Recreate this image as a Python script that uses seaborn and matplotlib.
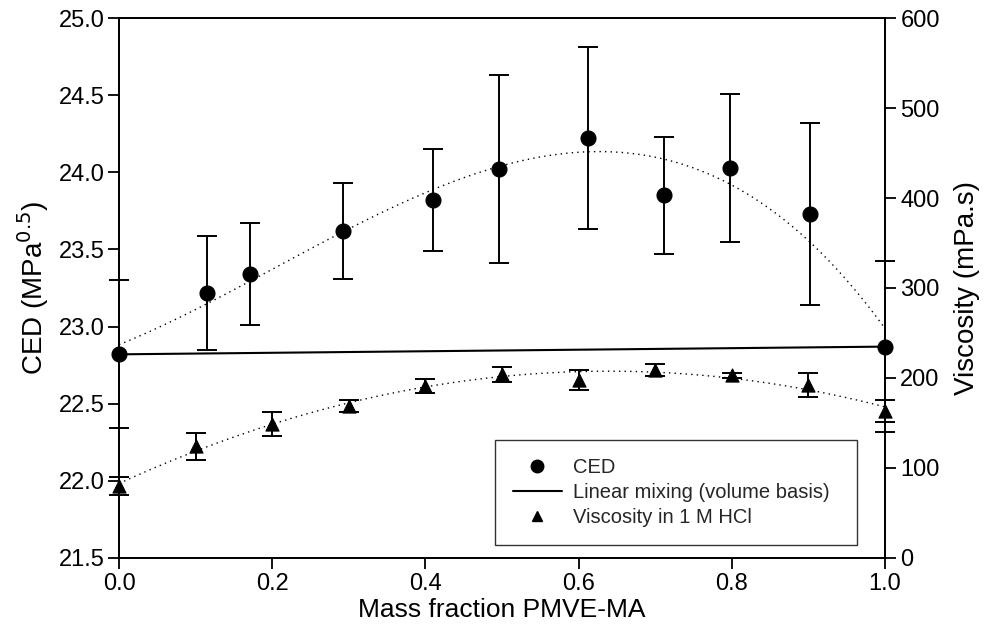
import numpy as np
import pandas as pd
import matplotlib
matplotlib.use("Agg")
import matplotlib.pyplot as plt
import seaborn as sns
from matplotlib.lines import Line2D

sns.set_theme(style="white")
plt.rcParams['font.family'] = ['Liberation Sans', 'DejaVu Sans']

# --- data ---
ced_x = [0.0, 0.115, 0.171, 0.292, 0.41, 0.496, 0.612, 0.711, 0.798, 0.902, 1.0]
ced_y = [22.82, 23.22, 23.34, 23.62, 23.82, 24.02, 24.22, 23.85, 24.03, 23.73, 22.87]
ced_err = [0.48, 0.37, 0.33, 0.31, 0.33, 0.61, 0.59, 0.38, 0.48, 0.59, 0.555]

mix_x = [0.0, 1.0]
mix_y = [22.82, 22.87]

vis_x = [0.0, 0.1, 0.2, 0.3, 0.4, 0.5, 0.6, 0.7, 0.8, 0.9, 1.0]
vis_y = [80, 124, 149, 169, 191, 204, 198, 209, 203, 192, 163]
vis_err = [10, 15, 13, 7, 8, 8, 11, 7, 3, 13, 12]

x_ticks = [0.0, 0.2, 0.4, 0.6, 0.8, 1.0]
x_tick_labels = ["0.0", "0.2", "0.4", "0.6", "0.8", "1.0"]
ced_ticks = [21.5, 22.0, 22.5, 23.0, 23.5, 24.0, 24.5, 25.0]
vis_ticks = [0, 100, 200, 300, 400, 500, 600]

ced_df = pd.DataFrame({"x": ced_x, "y": ced_y, "err": ced_err})
vis_df = pd.DataFrame({"x": vis_x, "y": vis_y, "err": vis_err})

fig = plt.figure(figsize=(9.86, 6.39), dpi=100)
ax = fig.add_axes([0.1207, 0.1268, 0.7769, 0.845])
ax2 = ax.twinx()

dot = (0, (1, 3))
# CED fit curve (cubic regression)
sns.regplot(data=ced_df, x="x", y="y", order=3, ci=None, scatter=False, ax=ax,
            truncate=True, line_kws=dict(color="black", lw=1.0, ls=dot))
# linear mixing line
sns.lineplot(x=mix_x, y=mix_y, ax=ax, color="black", lw=1.5, zorder=3)
# CED points with error bars
ax.errorbar(ced_df["x"], ced_df["y"], yerr=ced_df["err"], fmt="none", ecolor="black",
            elinewidth=1.4, capsize=7.5, capthick=1.4, zorder=4, clip_on=False)
sns.scatterplot(data=ced_df, x="x", y="y", ax=ax, marker="o", color="black", s=115,
                edgecolor="black", zorder=5, clip_on=False)

# viscosity fit curve (quadratic regression)
sns.regplot(data=vis_df, x="x", y="y", order=2, ci=None, scatter=False, ax=ax2,
            truncate=True, line_kws=dict(color="black", lw=1.0, ls=dot))
ax2.errorbar(vis_df["x"], vis_df["y"], yerr=vis_df["err"], fmt="none", ecolor="black",
             elinewidth=1.4, capsize=7.5, capthick=1.4, zorder=4, clip_on=False)
sns.scatterplot(data=vis_df, x="x", y="y", ax=ax2, marker="^", color="black", s=90,
                edgecolor="black", zorder=5, clip_on=False)

ax.set_xlim(0, 1.0)
ax.set_ylim(21.5, 25.0)
ax2.set_ylim(0, 600)
ax.set_xticks(x_ticks)
ax.set_xticklabels(x_tick_labels)
ax.set_yticks(ced_ticks)
ax.set_yticklabels([f"{v:.1f}" for v in ced_ticks])
ax2.set_yticks(vis_ticks)

for a in (ax, ax2):
    for s in a.spines.values():
        s.set_color("black")
        s.set_linewidth(1.3)
ax.tick_params(axis="both", which="major", direction="out", length=8, width=1.3,
               color="black", labelsize=17, labelcolor="black", pad=2,
               left=True, bottom=True, right=False, top=False)
ax.tick_params(axis="x", pad=3)
ax2.tick_params(axis="y", direction="out", length=8, width=1.3, color="black",
                labelsize=17, labelcolor="black", pad=3, right=True)

ax.set_xlabel("Mass fraction PMVE-MA", fontsize=19, labelpad=2, color="black")
ax.set_ylabel("CED (MPa$^{0.5}$)", fontsize=20, labelpad=6, color="black")
ax2.set_ylabel("Viscosity (mPa.s)", fontsize=20, labelpad=10, color="black")
ax.grid(False)
ax2.grid(False)

handles = [
    Line2D([], [], marker="o", color="black", ls="none", markersize=9),
    Line2D([], [], color="black", lw=1.5),
    Line2D([], [], marker="^", color="black", ls="none", markersize=7),
]
labels = ["CED", "Linear mixing (volume basis)", "Viscosity in 1 M HCl"]
leg = ax2.legend(handles, labels, loc="lower left", bbox_to_anchor=(0.491, 0.024, 0.4726, 0.2),
                 mode="expand", frameon=True, fancybox=False, fontsize=14.5, handlelength=2.4,
                 borderpad=0.9, labelspacing=0.3, handletextpad=0.55, borderaxespad=0)
leg.get_frame().set_edgecolor("black")
leg.get_frame().set_linewidth(1.0)

fig.savefig("out.png", dpi=100)
